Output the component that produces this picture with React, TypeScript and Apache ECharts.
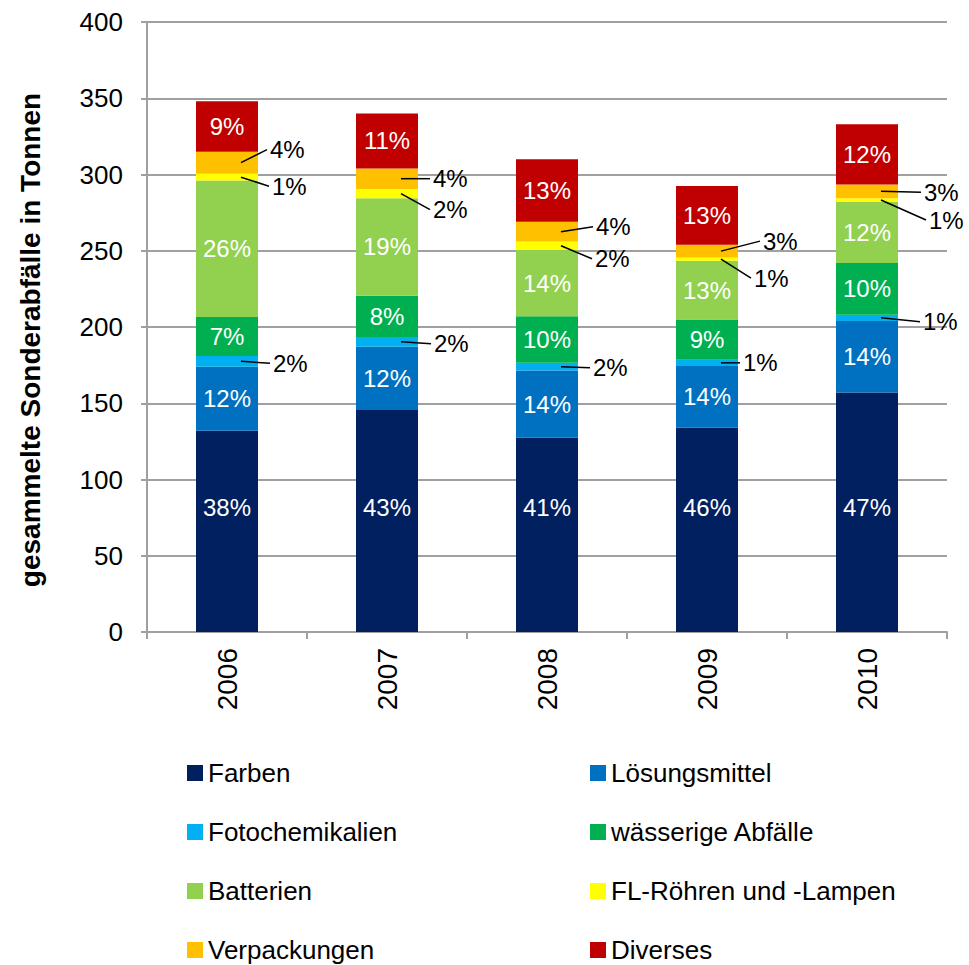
import React, { useEffect, useRef } from 'react';
import * as echarts from 'echarts';

// ---- data (tonnes) ----
const years = ['2006', '2007', '2008', '2009', '2010'];
const seriesNames = [
  'Farben',
  'Lösungsmittel',
  'Fotochemikalien',
  'wässerige Abfälle',
  'Batterien',
  'FL-Röhren und -Lampen',
  'Verpackungen',
  'Diverses',
];
const farben = [132, 146, 127.5, 134, 157];
const loesungsmittel = [42, 41, 44, 40.5, 47];
const fotochemikalien = [7, 6.5, 5, 4, 4];
const waessrigeAbfaelle = [25.5, 27, 30.5, 26.5, 34];
const batterien = [89.5, 64, 43.5, 38.5, 40];
const flRoehren = [4.5, 6, 5.5, 2, 2.5];
const verpackungen = [14.5, 13.5, 13, 8.5, 9];
const diverses = [33, 36, 41, 38.5, 39.5];
const yMin = 0;
const yMax = 400;
const yStep = 50;

const values = [farben, loesungsmittel, fotochemikalien, waessrigeAbfaelle, batterien, flRoehren, verpackungen, diverses];

// ---- style ----
const colors = ['#002060', '#0070C0', '#00B0F0', '#00B050', '#92D050', '#FFFF00', '#FFC000', '#C00000'];
const FONT = '"Liberation Sans", Arial, Helvetica, sans-serif';
const BAR_W = 62;
// label nudges for outside (leader-line) labels: [dx from bar right, dy from segment middle]
const outsideLabelNudge: Record<number, number[][]> = {
  2: [[15, 2], [16, 2], [15, 1], [5, 0], [25, 4]],
  5: [[14, 9], [15, 16], [17, 13], [16, 19], [31, 20]],
  6: [[12, -13], [15, 0], [18, -5], [25, -10], [26, 1]],
};

const totals = years.map((_, i) => values.reduce((s, arr) => s + arr[i], 0));
const pct = (s: number, i: number) => Math.round((values[s][i] / totals[i]) * 100) + '%';
const baseOf = (s: number, i: number) => {
  let b = 0;
  for (let k = 0; k < s; k++) b += values[k][i];
  return b;
};

export default function App() {
  const ref = useRef<HTMLDivElement>(null);
  useEffect(() => {
    document.body.style.margin = '0';
    if (!ref.current) return;
    const chart = echarts.init(ref.current, undefined, { renderer: 'svg' });

    const barSeries = seriesNames.map((name, s) => {
      const outside = outsideLabelNudge[s] !== undefined;
      const isFarben = s === 0;
      return {
        name,
        type: 'bar',
        stack: 'total',
        barWidth: BAR_W,
        itemStyle: { color: colors[s] },
        label: {
          show: !outside,
          position: isFarben ? 'insideBottom' : 'inside',
          distance: isFarben ? 113 : 5,
          color: '#ffffff',
          fontSize: 24,
          fontFamily: FONT,
          formatter: (p: any) => pct(s, p.dataIndex),
        },
        data: values[s],
      };
    });

    const annSeries = Object.keys(outsideLabelNudge).map((key) => {
      const s = Number(key);
      return {
        name: '_ann_' + seriesNames[s],
        type: 'custom',
        coordinateSystem: 'cartesian2d',
        encode: { x: 0, y: 1 },
        silent: true,
        z: 10,
        data: years.map((_, i) => [i, baseOf(s, i), values[s][i]]),
        renderItem: (params: any, api: any) => {
          const i = params.dataIndex;
          const base = api.value(1);
          const v = api.value(2);
          const mid = api.coord([api.value(0), base + v / 2]);
          const [dx, dy] = outsideLabelNudge[s][i];
          const tx = mid[0] + BAR_W / 2 + dx;
          const ty = mid[1] + dy;
          return {
            type: 'group',
            children: [
              {
                type: 'line',
                shape: { x1: mid[0] + 14, y1: mid[1], x2: tx - 3, y2: ty },
                style: { stroke: '#000000', lineWidth: 1.5 },
              },
              {
                type: 'text',
                x: tx,
                y: ty,
                style: {
                  text: pct(s, i),
                  fill: '#000000',
                  fontSize: 24,
                  fontFamily: FONT,
                  textAlign: 'left',
                  align: 'left',
                  textVerticalAlign: 'middle',
                  verticalAlign: 'middle',
                },
              },
            ],
          };
        },
      };
    });

    const legendCommon = {
      orient: 'vertical',
      top: 760,
      height: 260,
      padding: 0,
      itemWidth: 16,
      itemHeight: 16,
      itemGap: 33,
      icon: 'rect',
      selectedMode: false,
      textStyle: { fontSize: 26, lineHeight: 26, color: '#000000', fontFamily: FONT },
    };

    chart.setOption({
      animation: false,
      textStyle: { fontFamily: FONT },
      grid: { left: 147, right: 22, top: 22, bottom: 333, containLabel: false },
      legend: [
        { ...legendCommon, left: 187, data: [seriesNames[0], seriesNames[2], seriesNames[4], seriesNames[6]] },
        { ...legendCommon, left: 590, data: [seriesNames[1], seriesNames[3], seriesNames[5], seriesNames[7]] },
      ],
      xAxis: {
        type: 'category',
        data: years,
        axisLine: { show: true, lineStyle: { color: '#a0a0a0', width: 2 } },
        axisTick: { show: true, length: 7, lineStyle: { color: '#a0a0a0', width: 2 } },
        axisLabel: { rotate: 90, margin: 16, fontSize: 28, color: '#000000', fontFamily: FONT },
      },
      yAxis: {
        type: 'value',
        min: yMin,
        max: yMax,
        interval: yStep,
        axisLine: { show: true, lineStyle: { color: '#a0a0a0', width: 2 } },
        axisTick: { show: true, length: 6, lineStyle: { color: '#a0a0a0', width: 2 } },
        axisLabel: { margin: 24, fontSize: 26, color: '#000000', fontFamily: FONT },
        splitLine: { show: true, lineStyle: { color: '#a0a0a0', width: 2 } },
      },
      graphic: [
        {
          type: 'text',
          x: 30,
          y: 340,
          rotation: Math.PI / 2,
          style: {
            text: 'gesammelte Sonderabfälle in Tonnen',
            fill: '#000000',
            fontSize: 28,
            fontWeight: 'bold',
            fontFamily: FONT,
            textAlign: 'center',
            align: 'center',
            textVerticalAlign: 'middle',
            verticalAlign: 'middle',
          },
        },
      ],
      series: [...barSeries, ...annSeries],
    });
    return () => chart.dispose();
  }, []);
  return <div ref={ref} style={{ width: 969, height: 965 }} />;
}
